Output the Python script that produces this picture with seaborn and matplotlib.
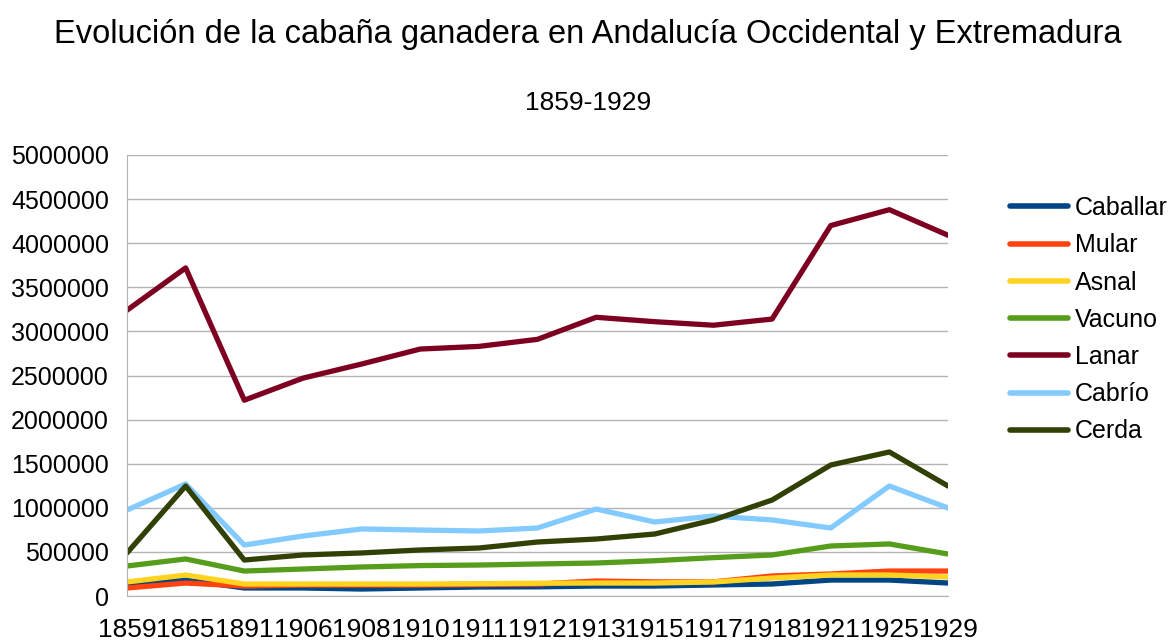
import pandas as pd
import numpy as np
import matplotlib
matplotlib.use('Agg')
import matplotlib.pyplot as plt
import seaborn as sns

# Datos
years = ['1859', '1865', '1891', '1906', '1908', '1910', '1911', '1912',
         '1913', '1915', '1917', '1918', '1921', '1925', '1929']
caballar = [125000, 181000, 91000, 91000, 79000, 91000, 102000, 104000,
            113000, 113000, 125000, 136000, 181000, 181000, 147000]
mular = [91000, 147000, 113000, 125000, 125000, 125000, 130000, 135000,
         170000, 160000, 160000, 227000, 250000, 283000, 283000]
asnal = [159000, 238000, 136000, 136000, 136000, 136000, 140000, 145000,
         147000, 147000, 159000, 204000, 238000, 238000, 215000]
vacuno = [340000, 420000, 283000, 306000, 329000, 345000, 351000, 363000,
          374000, 400000, 435000, 465000, 567000, 590000, 476000]
lanar = [3240000, 3720000, 2220000, 2470000, 2630000, 2800000, 2830000, 2910000,
         3160000, 3110000, 3070000, 3140000, 4200000, 4380000, 4090000]
cabrio = [975000, 1270000, 578000, 680000, 760000, 748000, 737000, 771000,
          986000, 839000, 907000, 862000, 771000, 1247000, 998000]
cerda = [488000, 1247000, 408000, 465000, 488000, 522000, 544000, 612000,
         646000, 703000, 862000, 1088000, 1485000, 1633000, 1247000]

series = {'Caballar': caballar, 'Mular': mular, 'Asnal': asnal, 'Vacuno': vacuno,
          'Lanar': lanar, 'Cabrío': cabrio, 'Cerda': cerda}
colores = ['#004586', '#ff420e', '#ffd320', '#579d1c', '#7e0021', '#83caff', '#314004']

df = pd.DataFrame(series)
df['Año'] = years
df_long = df.melt(id_vars='Año', var_name='Especie', value_name='Cabezas')

sns.set_style('white')
plt.rcParams['font.family'] = ['Liberation Sans', 'DejaVu Sans']
plt.rcParams['text.color'] = 'black'
plt.rcParams['xtick.color'] = 'black'
plt.rcParams['ytick.color'] = 'black'

fig = plt.figure(figsize=(11.76, 6.41), dpi=100)
ax = fig.add_axes([127 / 1176, 1 - 596 / 641, (948 - 127) / 1176, (596 - 155) / 641])

sns.lineplot(data=df_long, x='Año', y='Cabezas', hue='Especie', palette=colores,
             linewidth=3.8, ax=ax, sort=False)

ax.set_xlim(0, len(years) - 1)
ax.set_ylim(0, 5000000)
ax.set_yticks(np.arange(0, 5000001, 500000))
ax.set_yticklabels([str(v) for v in range(0, 5000001, 500000)], fontsize=18)
ax.set_xticks(range(len(years)))
ax.set_xticklabels(years, fontsize=19)
ax.set_xlabel('')
ax.set_ylabel('')
ax.grid(axis='y', color='#b3b3b3', linewidth=1)
ax.set_axisbelow(True)
for s in ['top', 'right']:
    ax.spines[s].set_visible(False)
ax.spines['left'].set_color('#b3b3b3')
ax.spines['bottom'].set_color('#b3b3b3')
ax.tick_params(axis='x', length=6.5, color='#b3b3b3', pad=9, direction='out', labelcolor='black')
ax.tick_params(axis='y', length=10, color='#b3b3b3', pad=3, direction='out', labelcolor='black')

ax.get_legend().remove()
handles, labels = ax.get_legend_handles_labels()
leg = fig.legend(handles, labels, loc='upper left',
                 bbox_to_anchor=(1010 / 1176, 1 - 196 / 641), frameon=False,
                 fontsize=18, handlelength=2.3, labelspacing=0.53, handletextpad=0.3,
                 borderpad=0, borderaxespad=0)
for line in leg.get_lines():
    line.set_linewidth(4)

fig.text(0.5, 1 - 35 / 641, 'Evolución de la cabaña ganadera en Andalucía Occidental y Extremadura',
         ha='center', va='center', fontsize=23.5)
fig.text(0.5, 1 - 103 / 641, '1859-1929', ha='center', va='center', fontsize=19)

fig.savefig('out.png', dpi=100)
